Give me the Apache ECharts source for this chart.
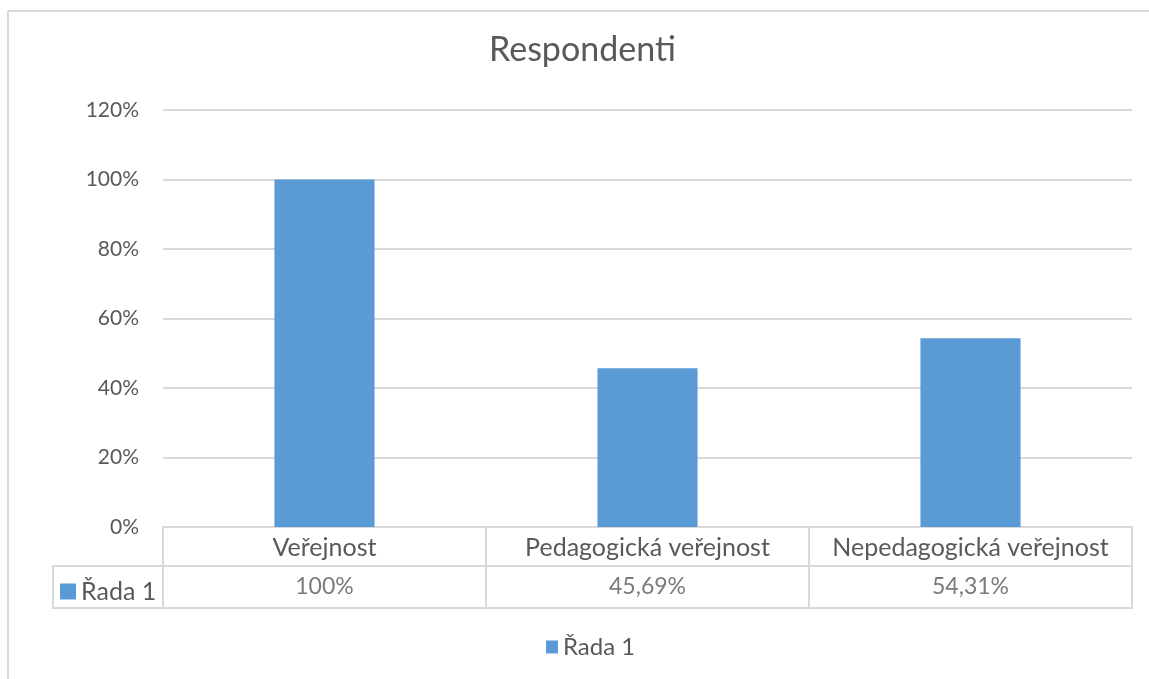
<!DOCTYPE html>
<html>
<head>
<meta charset="utf-8">
<script src="https://cdn.jsdelivr.net/npm/echarts@6/dist/echarts.min.js"></script>
<style>html,body{margin:0;padding:0;background:#fff;}#c{width:1149px;height:679px;}</style>
</head>
<body>
<div id="c"></div>
<script>
const titleText = 'Respondenti';
const seriesName = 'Řada 1';
const categories = ['Veřejnost', 'Pedagogická veřejnost', 'Nepedagogická veřejnost'];
const values = [1, 0.4569, 0.5431];
const yTicks = [0, 0.2, 0.4, 0.6, 0.8, 1.0, 1.2];

const FONT = 'Lato';
const TXT = '#595959';
const LINE = '#d9d9d9';
const BAR = '#5B9BD5';

function pct(v) {
  const p = Math.round(v * 10000) / 100;
  return (Number.isInteger(p) ? String(p) : p.toFixed(2).replace('.', ',')) + '%';
}

const chart = echarts.init(document.getElementById('c'), null, {renderer: 'canvas'});
const L = 163, W = 969;
chart.setOption({
  animation: false,
  backgroundColor: '#fff',
  textStyle: {fontFamily: FONT},
  title: {
    text: titleText, left: 484, top: 28,
    textStyle: {fontFamily: FONT, fontSize: 34, fontWeight: 'normal', color: TXT}
  },
  graphic: [
    {type: 'line', shape: {x1: 8, y1: 11, x2: 1149, y2: 11}, style: {stroke: LINE, lineWidth: 2}, silent: true},
    {type: 'line', shape: {x1: 8, y1: 11, x2: 8, y2: 679}, style: {stroke: LINE, lineWidth: 2}, silent: true}
  ],
  legend: [
    {data: [seriesName], left: 55, top: 574, itemWidth: 16, itemHeight: 16, icon: 'rect',
     textStyle: {fontFamily: FONT, fontSize: 25, color: TXT}, selectedMode: false},
    {data: [seriesName], left: 541, top: 630, itemWidth: 12, itemHeight: 13, icon: 'rect',
     textStyle: {fontFamily: FONT, fontSize: 24, color: TXT}, selectedMode: false}
  ],
  grid: [
    {left: L, width: W, top: 110, height: 417},
    {left: L, width: W, top: 527, height: 39, show: true, borderColor: LINE, borderWidth: 2},
    {left: L, width: W, top: 566, height: 42, show: true, borderColor: LINE, borderWidth: 2},
    {left: 53, width: 110, top: 566, height: 42, show: true, borderColor: LINE, borderWidth: 2}
  ],
  xAxis: [
    {gridIndex: 0, type: 'category', data: categories,
     axisLine: {show: true, lineStyle: {color: LINE, width: 2}}, axisTick: {show: false},
     axisLabel: {show: true, interval: 0, hideOverlap: false, margin: 8, fontFamily: FONT, fontSize: 25, color: TXT}},
    {gridIndex: 1, type: 'category', data: categories,
     axisLine: {show: false}, axisTick: {show: false}, axisLabel: {show: false},
     splitLine: {show: true, interval: 0, lineStyle: {color: LINE, width: 2}}},
    {gridIndex: 2, type: 'category', data: categories,
     axisLine: {show: false}, axisTick: {show: false}, axisLabel: {show: false},
     splitLine: {show: true, interval: 0, lineStyle: {color: LINE, width: 2}}},
    {gridIndex: 3, type: 'category', data: [''], show: false}
  ],
  yAxis: [
    {gridIndex: 0, type: 'value', min: 0, max: 1.2, interval: 0.2,
     axisLine: {show: false}, axisTick: {show: false},
     splitLine: {show: true, lineStyle: {color: LINE, width: 2}},
     axisLabel: {margin: 24, fontFamily: FONT, fontSize: 21, color: TXT,
       formatter: v => Math.round(v * 100) + '%'}},
    {gridIndex: 1, type: 'value', min: 0, max: 1, show: false},
    {gridIndex: 2, type: 'category', data: [seriesName], show: false},
    {gridIndex: 3, type: 'value', show: false}
  ],
  series: [
    {name: seriesName, type: 'bar', xAxisIndex: 0, yAxisIndex: 0, data: values,
     barWidth: '31%', itemStyle: {color: BAR}},
    {name: 'table', type: 'scatter', xAxisIndex: 2, yAxisIndex: 2, symbolSize: 0,
     data: values.map((v, i) => [categories[i], seriesName, v]),
     label: {show: true, position: 'inside', fontFamily: FONT, fontSize: 23, color: TXT,
       formatter: p => pct(p.value[2])}}
  ]
});
</script>
</body>
</html>
